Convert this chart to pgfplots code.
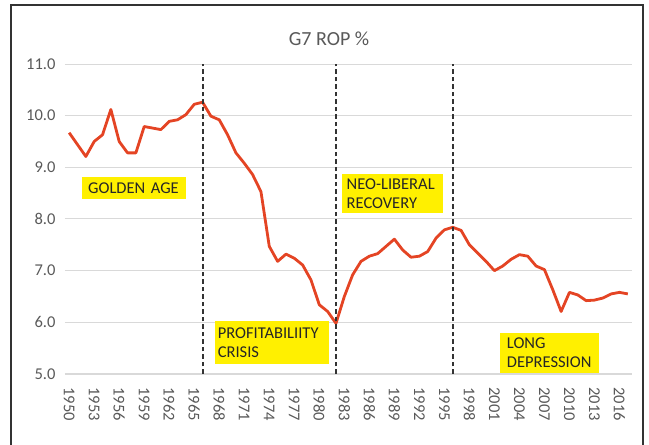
\documentclass[border=0pt]{standalone}
\usepackage{pgfplots}
\pgfplotsset{compat=1.18}
\usepackage{fontspec}
\setmainfont{Carlito}

\definecolor{ropred}{RGB}{228,68,36}
\definecolor{gridgray}{RGB}{217,217,217}
\definecolor{labelgray}{RGB}{89,89,89}
\definecolor{hiyellow}{RGB}{255,240,0}

\begin{document}
\begin{tikzpicture}[x=1pt,y=1pt]
\useasboundingbox (0,0) rectangle (649,445);
% outer chart frame (bottom edge falls off the page, as in the source)
\draw[line width=1.2pt, black!80] (11,-10) rectangle (643,440);
\node[font=\fontsize{20}{24}\selectfont, text=labelgray] at (329,406) {G7 ROP \%};

\begin{axis}[
    at={(65pt,71pt)}, anchor=south west,
    scale only axis,
    width=567pt, height=310pt,
    xmin=1949.5, xmax=2017.5,
    ymin=5, ymax=11,
    xtick={1950,1953,...,2016},
    ytick={5,6,...,11},
    axis line style={draw=none},
    axis x line*=bottom,
    ymajorgrids,
    grid style={gridgray, line width=1pt},
    major tick length=0pt,
    tick label style={font=\fontsize{16.5}{18}\selectfont, text=labelgray},
    /pgf/number format/assume math mode=true,
    x tick label style={rotate=-90, anchor=west, xshift=10pt,
        /pgf/number format/1000 sep={}},
    y tick label style={/pgf/number format/fixed,
        /pgf/number format/fixed zerofill,
        /pgf/number format/precision=1, xshift=-6pt},
    clip=false,
]
% bottom axis line
\draw[gridgray, line width=1.2pt] (axis cs:1949.5,5) -- (axis cs:2017.5,5);

\addplot[ropred, line width=2.8pt, line join=round] coordinates {
    (1950, 9.67) (1951, 9.44) (1952, 9.21) (1953, 9.50) (1954, 9.63)
    (1955,10.12) (1956, 9.50) (1957, 9.28) (1958, 9.28) (1959, 9.79)
    (1960, 9.76) (1961, 9.73) (1962, 9.89) (1963, 9.92) (1964,10.02)
    (1965,10.22) (1966,10.26) (1967, 9.99) (1968, 9.92) (1969, 9.63)
    (1970, 9.28) (1971, 9.08) (1972, 8.86) (1973, 8.53) (1974, 7.47)
    (1975, 7.18) (1976, 7.32) (1977, 7.24) (1978, 7.11) (1979, 6.82)
    (1980, 6.34) (1981, 6.21) (1982, 5.98) (1983, 6.50) (1984, 6.92)
    (1985, 7.18) (1986, 7.28) (1987, 7.33) (1988, 7.47) (1989, 7.61)
    (1990, 7.40) (1991, 7.26) (1992, 7.28) (1993, 7.37) (1994, 7.63)
    (1995, 7.79) (1996, 7.84) (1997, 7.78) (1998, 7.50) (1999, 7.34)
    (2000, 7.18) (2001, 7.00) (2002, 7.09) (2003, 7.22) (2004, 7.31)
    (2005, 7.28) (2006, 7.09) (2007, 7.02) (2008, 6.63) (2009, 6.21)
    (2010, 6.58) (2011, 6.53) (2012, 6.42) (2013, 6.43) (2014, 6.47)
    (2015, 6.55) (2016, 6.58) (2017, 6.55)
};

% period boundaries
\draw[black!80, line width=2pt, dash pattern=on 4.5pt off 3pt]
    (axis cs:1966,5) -- (axis cs:1966,11);
\draw[black!80, line width=2pt, dash pattern=on 4.5pt off 3pt]
    (axis cs:1982,5) -- (axis cs:1982,11);
\draw[black!80, line width=2pt, dash pattern=on 4.5pt off 3pt]
    (axis cs:1996,5) -- (axis cs:1996,11);

% period labels
\tikzset{period/.style={fill=hiyellow, text=black!85, inner sep=0pt,
    align=left, font=\fontsize{16.5}{19.5}\selectfont}}
\node[period, minimum width=104pt, minimum height=21pt, text width=92pt]
    at (axis cs:1957.8,8.60) {GOLDEN AGE};
\node[period, minimum width=101pt, minimum height=39pt, text width=92pt]
    at (axis cs:1988.8,8.49) {NEO-LIBERAL\\RECOVERY};
\node[period, minimum width=114pt, minimum height=43pt, text width=108pt]
    at (axis cs:1974.3,5.61) {PROFITABILIITY\\CRISIS};
\node[period, minimum width=99pt, minimum height=40pt, text width=85pt]
    at (axis cs:2007.6,5.41) {LONG\\DEPRESSION};
\end{axis}
\end{tikzpicture}
\end{document}
